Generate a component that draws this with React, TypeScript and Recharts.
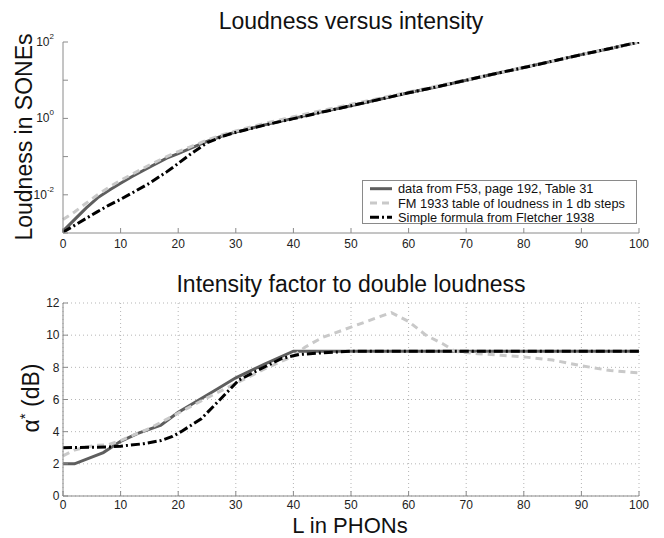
import React from 'react';
import { LineChart, Line, XAxis, YAxis, CartesianGrid, Legend } from 'recharts';

const FONT = '"Liberation Sans", Arial, Helvetica, sans-serif';

// ---------- axis ticks ----------
const phonTicks = [0, 10, 20, 30, 40, 50, 60, 70, 80, 90, 100];
const sonesTicks = [0.001, 0.01, 0.1, 1, 10, 100];
const sonesTickLabels: Record<string, string> = { '0.01': '-2', '1': '0', '100': '2' };
const alphaTicks = [0, 2, 4, 6, 8, 10, 12];

// ---------- top plot: loudness (sones) vs level (phons) ----------
const topPhons = [0, 2, 4, 6, 8, 10, 12, 15, 18, 20, 22, 25, 28, 30, 35, 40, 45, 50, 55, 60, 65, 70, 75, 80, 85, 90, 95, 100];
const sonesF53 = [0.00112, 0.00224, 0.00447, 0.00832, 0.0132, 0.02, 0.0302, 0.0525, 0.0912, 0.12, 0.162, 0.251, 0.363, 0.437, 0.676, 1.0, 1.48, 2.14, 3.16, 4.68, 6.76, 10, 14.8, 21.4, 31.6, 46.8, 67.6, 100];
const sonesFM1933 = [0.00224, 0.00355, 0.00603, 0.01, 0.0158, 0.024, 0.0347, 0.0603, 0.1, 0.135, 0.178, 0.269, 0.389, 0.468, 0.741, 1.1, 1.62, 2.34, 3.39, 4.9, 7.08, 10.2, 14.8, 21.9, 31.6, 46.8, 67.6, 100];
const sonesFormula = [0.00105, 0.00158, 0.0024, 0.00363, 0.00537, 0.00759, 0.0112, 0.02, 0.0398, 0.0661, 0.112, 0.23, 0.352, 0.432, 0.668, 0.985, 1.46, 2.14, 3.16, 4.68, 6.76, 10, 14.8, 21.4, 31.6, 46.8, 67.6, 100];

// ---------- bottom plot: alpha* (dB) vs level (phons) ----------
const alphaF53Phons = [0, 2, 7, 10, 13, 17, 20, 23, 27, 30, 35, 40, 100];
const alphaF53 = [2.0, 2.0, 2.7, 3.4, 3.9, 4.4, 5.2, 5.85, 6.7, 7.35, 8.2, 9.0, 9.0];
const alphaFM1933Phons = [0, 2, 4, 6, 8, 10, 15, 20, 25, 30, 35, 40, 42, 45, 50, 55, 57, 60, 63, 66, 68, 72, 76, 80, 85, 90, 95, 100];
const alphaFM1933 = [2.5, 2.85, 3.05, 3.15, 3.2, 3.45, 4.2, 5.15, 6.1, 7.0, 7.9, 8.7, 9.25, 9.85, 10.5, 11.15, 11.4, 10.85, 10.0, 9.45, 9.0, 8.85, 8.75, 8.65, 8.45, 8.1, 7.8, 7.65];
const alphaFormulaPhons = [0, 8, 10, 14, 17, 19, 20.5, 24, 27, 30.5, 34, 38, 41, 45, 50, 100];
const alphaFormula = [3.0, 3.05, 3.1, 3.25, 3.45, 3.7, 4.0, 4.8, 5.9, 7.2, 7.85, 8.55, 8.8, 8.9, 9.0, 9.0];

const seriesNames = [
  'data from F53, page 192, Table 31',
  'FM 1933 table of loudness in 1 db steps',
  'Simple formula from Fletcher 1938',
];

const styles = [
  { stroke: '#5e5e5e', width: 3, dash: undefined as string | undefined },
  { stroke: '#c9c9c9', width: 3, dash: '7 5' },
  { stroke: '#000000', width: 3, dash: '9 3 2 3' },
];

const zip = (xs: number[], ys: number[]) => xs.map((x, i) => ({ x, y: ys[i] }));

const topData = [zip(topPhons, sonesF53), zip(topPhons, sonesFM1933), zip(topPhons, sonesFormula)];
const bottomData = [
  zip(alphaF53Phons, alphaF53),
  zip(alphaFM1933Phons, alphaFM1933),
  zip(alphaFormulaPhons, alphaFormula),
];

const AXIS = '#8a8a8a';
const TICKTXT = '#222';

const LogTick = (props: any) => {
  const { x, y, payload } = props;
  const exp = sonesTickLabels[String(payload.value)];
  if (exp === undefined) return <g />;
  return (
    <text x={x} y={y + 4} textAnchor="end" fontSize={12} fill={TICKTXT} fontFamily={FONT}>
      10
      <tspan dy={-7} fontSize={8}>
        {exp}
      </tspan>
    </text>
  );
};

const LegendBox = () => (
  <svg width={276} height={45} style={{ display: 'block' }}>
    <rect x={0.5} y={0.5} width={274} height={43} fill="#fff" stroke={AXIS} strokeWidth={1} />
    {seriesNames.map((name, i) => {
      const cy = 8.7 + i * 14.3;
      return (
        <g key={name}>
          <line
            x1={8}
            x2={30}
            y1={cy}
            y2={cy}
            stroke={styles[i].stroke}
            strokeWidth={styles[i].width}
            strokeDasharray={styles[i].dash}
          />
          <text x={36} y={cy + 4.5} fontSize={12.8} fontFamily={FONT} fill="#111">
            {name}
          </text>
        </g>
      );
    })}
  </svg>
);

export default function App() {
  return (
    <div style={{ position: 'absolute', left: 0, top: 0, width: 664, height: 538, background: '#fff' }}>
      <div style={{ position: 'absolute', left: 0, top: 0 }}>
        <LineChart width={664} height={270} margin={{ top: 42, right: 25, left: 13, bottom: 7 }}>
          <XAxis
            xAxisId="b"
            type="number"
            dataKey="x"
            domain={[0, 100]}
            ticks={phonTicks}
            height={30}
            stroke={AXIS}
            tickSize={-5}
            tickMargin={11}
            tick={{ fill: TICKTXT, fontSize: 12, fontFamily: FONT }}
            allowDuplicatedCategory={false}
          />
          <XAxis
            xAxisId="t"
            orientation="top"
            type="number"
            dataKey="x"
            domain={[0, 100]}
            ticks={phonTicks}
            height={0}
            stroke={AXIS}
            tickSize={-5}
            tick={false}
            allowDuplicatedCategory={false}
          />
          <YAxis
            yAxisId="l"
            type="number"
            scale="log"
            domain={[0.001, 100]}
            allowDataOverflow
            ticks={sonesTicks}
            width={50}
            stroke={AXIS}
            tickSize={-5}
            tickMargin={14}
            tick={<LogTick />}
          />
          <YAxis
            yAxisId="r"
            orientation="right"
            type="number"
            scale="log"
            domain={[0.001, 100]}
            allowDataOverflow
            ticks={sonesTicks}
            width={0}
            stroke={AXIS}
            tickSize={-5}
            tick={false}
          />
          {topData.map((d, i) => (
            <Line
              key={seriesNames[i]}
              xAxisId="b"
              yAxisId="l"
              data={d}
              dataKey="y"
              name={seriesNames[i]}
              type="linear"
              dot={false}
              stroke={styles[i].stroke}
              strokeWidth={styles[i].width}
              strokeDasharray={styles[i].dash}
              isAnimationActive={false}
            />
          ))}
          <Legend
            layout="horizontal"
            verticalAlign="middle"
            align="center"
            content={() => <LegendBox />}
            wrapperStyle={{ left: 362, top: 180, width: 276, height: 45 }}
          />
        </LineChart>
      </div>

      <div style={{ position: 'absolute', left: 0, top: 270 }}>
        <LineChart width={664} height={268} margin={{ top: 33, right: 25, left: 13, bottom: 12 }}>
          <CartesianGrid xAxisId="b" yAxisId="l" stroke="#b5b5b5" strokeDasharray="1 3" />
          <XAxis
            xAxisId="b"
            type="number"
            dataKey="x"
            domain={[0, 100]}
            ticks={phonTicks}
            height={30}
            stroke={AXIS}
            tickSize={-5}
            tickMargin={9}
            tick={{ fill: TICKTXT, fontSize: 12, fontFamily: FONT }}
            allowDuplicatedCategory={false}
          />
          <XAxis
            xAxisId="t"
            orientation="top"
            type="number"
            dataKey="x"
            domain={[0, 100]}
            ticks={phonTicks}
            height={0}
            stroke={AXIS}
            tickSize={-5}
            tick={false}
            allowDuplicatedCategory={false}
          />
          <YAxis
            yAxisId="l"
            type="number"
            domain={[0, 12]}
            ticks={alphaTicks}
            width={50}
            stroke={AXIS}
            tickSize={-5}
            tickMargin={8.5}
            tick={{ fill: TICKTXT, fontSize: 12, fontFamily: FONT }}
          />
          <YAxis
            yAxisId="r"
            orientation="right"
            type="number"
            domain={[0, 12]}
            ticks={alphaTicks}
            width={0}
            stroke={AXIS}
            tickSize={-5}
            tick={false}
          />
          {bottomData.map((d, i) => (
            <Line
              key={seriesNames[i]}
              xAxisId="b"
              yAxisId="l"
              data={d}
              dataKey="y"
              name={seriesNames[i]}
              type="linear"
              dot={false}
              stroke={styles[i].stroke}
              strokeWidth={styles[i].width}
              strokeDasharray={styles[i].dash}
              isAnimationActive={false}
            />
          ))}
        </LineChart>
      </div>

      <svg
        width={664}
        height={538}
        style={{ position: 'absolute', left: 0, top: 0, pointerEvents: 'none' }}
        fontFamily={FONT}
        fill="#111"
      >
        <text x={351} y={29} textAnchor="middle" fontSize={23}>
          Loudness versus intensity
        </text>
        <text transform="translate(32,137) rotate(-90)" textAnchor="middle" fontSize={23}>
          Loudness in SONEs
        </text>
        <text x={351} y={292} textAnchor="middle" fontSize={23}>
          Intensity factor to double loudness
        </text>
        <text transform="translate(39,398) rotate(-90)" textAnchor="middle" fontSize={23}>
          α
          <tspan dy={-9} fontSize={15}>
            *
          </tspan>
          <tspan dy={9}> (dB)</tspan>
        </text>
        <text x={350} y={532.5} textAnchor="middle" fontSize={22}>
          L in PHONs
        </text>
      </svg>
    </div>
  );
}
